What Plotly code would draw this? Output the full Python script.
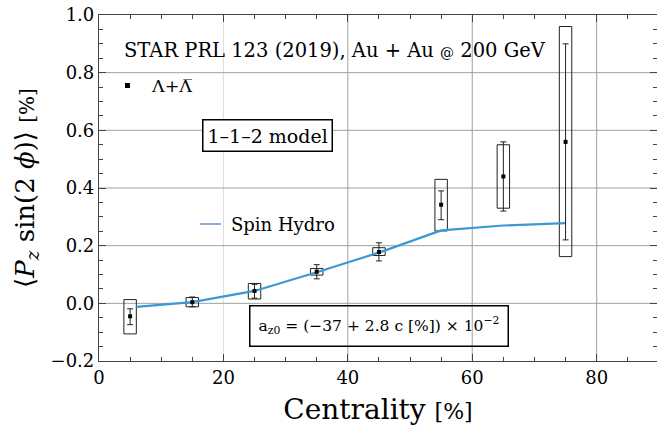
import plotly.graph_objects as go

# ---- data ----
centrality = [5, 15, 25, 35, 45, 55, 65, 75]
value = [-0.045, 0.004, 0.043, 0.110, 0.178, 0.342, 0.440, 0.560]
stat_hi = [-0.019, 0.022, 0.066, 0.134, 0.210, 0.390, 0.560, 0.900]
stat_lo = [-0.074, -0.012, 0.018, 0.085, 0.147, 0.290, 0.320, 0.220]
sys_hi = [0.013, 0.020, 0.069, 0.121, 0.193, 0.430, 0.550, 0.960]
sys_lo = [-0.106, -0.012, 0.015, 0.098, 0.166, 0.251, 0.330, 0.162]
bin_halfwidth = 1.0

hydro_x = [6, 15, 25, 35, 45, 55, 65, 75]
hydro_y = [-0.012, 0.004, 0.043, 0.108, 0.176, 0.253, 0.270, 0.278]

x_ticks = [0, 20, 40, 60, 80]
y_ticks = [-0.2, 0.0, 0.2, 0.4, 0.6, 0.8, 1.0]

FONT = "DejaVu Serif"
L, R, T, B = 99, 0, 15, 74
W, H = 657, 435
XR = [0, 89.7]
YR = [-0.2, 1.0]

fig = go.Figure()

# systematic boxes
bx, by = [], []
for c, lo, hi in zip(centrality, sys_lo, sys_hi):
    bx += [c - bin_halfwidth, c + bin_halfwidth, c + bin_halfwidth, c - bin_halfwidth, c - bin_halfwidth, None]
    by += [lo, lo, hi, hi, lo, None]
fig.add_trace(go.Scatter(x=bx, y=by, mode="lines", line=dict(color="#222222", width=1),
                         showlegend=False, hoverinfo="skip"))

# spin hydro line
fig.add_trace(go.Scatter(x=hydro_x, y=hydro_y, mode="lines",
                         line=dict(color="#3a98d4", width=2.2), showlegend=False))

# data points with stat errors
fig.add_trace(go.Scatter(
    x=centrality, y=value, mode="markers",
    marker=dict(symbol="square", size=4, color="black"),
    error_y=dict(type="data", symmetric=False,
                 array=[h - v for h, v in zip(stat_hi, value)],
                 arrayminus=[v - l for v, l in zip(value, stat_lo)],
                 color="#222222", thickness=1, width=3),
    showlegend=False))

# grid lines
shapes = []
for xv in x_ticks[1:]:
    shapes.append(dict(type="line", xref="x", yref="paper", x0=xv, x1=xv, y0=0, y1=1,
                       line=dict(color="#dddddd" if xv == 20 else "#a0a0a0", width=1), layer="below"))
for yv in y_ticks[1:-1]:
    shapes.append(dict(type="line", xref="paper", yref="y", x0=0, x1=1, y0=yv, y1=yv,
                       line=dict(color="#a0a0a0", width=1), layer="below"))

pw = W - L - R
ph = H - T - B
def px(x):
    return (x - L) / pw
def py(y):
    return (H - B - y) / ph

# legend marker and spin hydro legend line
shapes.append(dict(type="rect", xref="paper", yref="paper", x0=px(125), x1=px(130), y0=py(88), y1=py(83),
                   fillcolor="black", line=dict(width=0)))
shapes.append(dict(type="line", xref="paper", yref="paper", x0=px(200), x1=px(221), y0=py(224), y1=py(224),
                   line=dict(color="#6b8ccb", width=1.5)))

fig.update_layout(shapes=shapes)

ann = []
ann.append(dict(x=px(122), y=py(50), xref="paper", yref="paper", xanchor="left", yanchor="middle",
                text="STAR PRL 123 (2019), Au + Au <span style='font-size:14px'>@</span> 200 GeV",
                showarrow=False, font=dict(family=FONT, size=19.5, color="black")))
ann.append(dict(x=px(149), y=py(86), xref="paper", yref="paper", xanchor="left", yanchor="middle",
                text="Λ+Λ\u0305", showarrow=False, font=dict(family=FONT, size=17.5, color="black")))
ann.append(dict(x=px(267.5), y=py(135), xref="paper", yref="paper", xanchor="center", yanchor="middle",
                text="1–1–2 model", showarrow=False, font=dict(family=FONT, size=19, color="black"),
                bordercolor="black", borderwidth=1.5, borderpad=4, bgcolor="white"))
ann.append(dict(x=px(229), y=py(224), xref="paper", yref="paper", xanchor="left", yanchor="middle",
                text="Spin Hydro", showarrow=False, font=dict(family=FONT, size=18, color="black")))
ann.append(dict(x=px(379), y=py(326), xref="paper", yref="paper", xanchor="center", yanchor="middle",
                text="a<sub>z0</sub> = (−37 + 2.8 c [%]) × 10<sup>−2</sup>", showarrow=False,
                font=dict(family=FONT, size=15.5, color="black"),
                bordercolor="black", borderwidth=1.5, borderpad=8))
fig.update_layout(annotations=ann)

axis_common = dict(showline=True, linecolor="#444444", linewidth=1.2, mirror="ticks",
                   ticks="inside", ticklen=7, tickcolor="#444444", showgrid=False, zeroline=False,
                   tickfont=dict(family=FONT, size=18, color="black"))

fig.update_xaxes(range=XR, tickvals=x_ticks, ticktext=[str(v) for v in x_ticks],
                 minor=dict(dtick=5, tick0=0, ticks="inside", ticklen=4, tickcolor="#444444", showgrid=False),
                 title=dict(text="Centrality <span style='font-size:22px'>[%]</span>",
                            font=dict(family=FONT, size=28, color="black"), standoff=12),
                 **axis_common)
fig.update_yaxes(range=YR, tickvals=y_ticks, ticktext=["−0.2", "0.0", "0.2", "0.4", "0.6", "0.8", "1.0"],
                 minor=dict(dtick=0.05, tick0=0, ticks="inside", ticklen=4, tickcolor="#444444", showgrid=False),
                 title=dict(text="⟨<i>P</i><sub><i>z</i></sub> sin(2 <i>ϕ</i>)⟩ <span style='font-size:20px'>[%]</span>",
                            font=dict(family=FONT, size=26, color="black"), standoff=8),
                 **axis_common)

fig.update_layout(width=W, height=H, margin=dict(l=L, r=R, t=T, b=B, autoexpand=False),
                  plot_bgcolor="white", paper_bgcolor="white")

fig.write_html("out.html")
